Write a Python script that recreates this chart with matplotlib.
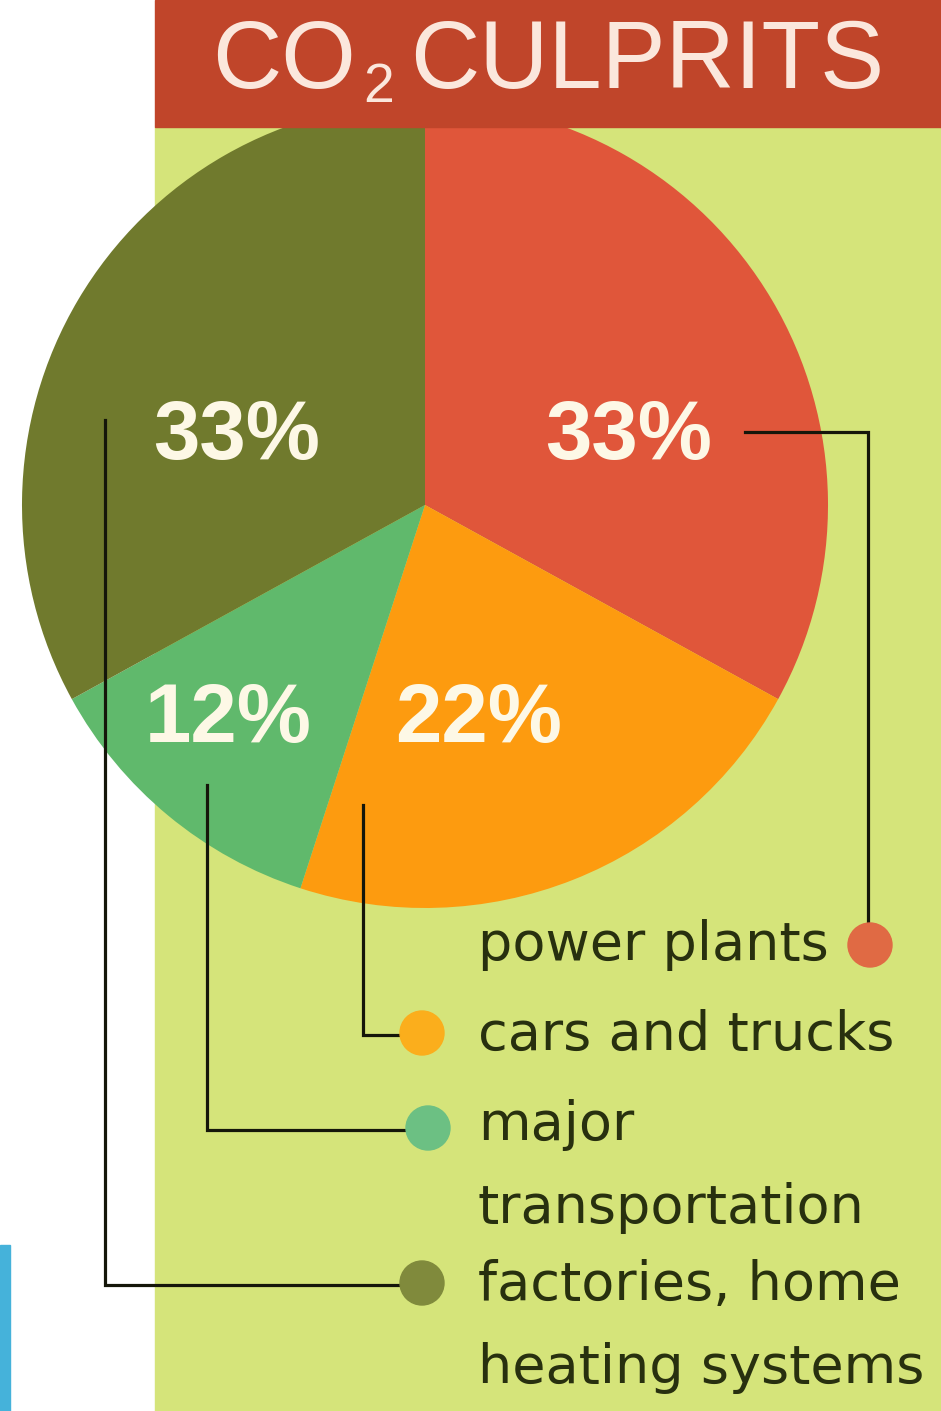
import matplotlib
matplotlib.use('Agg')
import matplotlib.pyplot as plt
from matplotlib import font_manager
from matplotlib.patches import Rectangle, Circle

sources = ["power plants", "cars and trucks", "major\ntransportation", "factories, home\nheating systems"]
shares = [33, 22, 12, 33]
colors = ["#e0563a", "#fd9b0f", "#60b96c", "#707a2d"]
dot_colors = ["#e06a44", "#fbae1c", "#6cc083", "#808a3c"]

W, H = 941, 1411

def pickFont(wanted, fallback):
    '''Use the first installed family of the list'''
    names = {f.name for f in font_manager.fontManager.ttflist}
    for name in wanted:
        if name in names:
            return name
    return fallback

legend_font = pickFont(['DejaVu Sans Condensed'], 'DejaVu Sans')
legend_size = 46 if legend_font == 'DejaVu Sans Condensed' else 39

fig = plt.figure(figsize=(W / 100, H / 100), dpi=100)
ax = fig.add_axes([0, 0, 1, 1])

# backgrounds: white page, green panel, red title banner
fig.patch.set_facecolor('white')
ax.add_patch(Rectangle((155, 127), W - 155, H - 127, color="#d5e47a", zorder=0))
ax.add_patch(Rectangle((155, 0), W - 155, 127, color="#c0452a", zorder=5))
ax.add_patch(Rectangle((0, 1245), 10, H - 1245, color="#45b2da", zorder=0))

# pie (y axis is inverted, so start at -90 and go counterclock in data space)
center = (425, 505)
radius = 403
wedges, _ = ax.pie(shares, colors=colors, startangle=-90, counterclock=True,
                   center=center, radius=radius, frame=True)
for w in wedges:
    w.set_zorder(2)

# percentage labels inside the slices
label_pos = [(629, 437), (479, 720), (228, 720), (237, 437)]
for val, (x, y) in zip(shares, label_pos):
    ax.text(x, y, "{}%".format(val), ha='center', va='center', fontsize=60,
            fontweight='bold', color="#fdf8e6", family='Liberation Sans', zorder=4)

# leader lines from the labels down to the legend dots
leaders = [
    ([745, 868, 868], [432, 432, 935]),
    ([363, 363, 405], [805, 1035, 1035]),
    ([207, 207, 410], [785, 1130, 1130]),
    ([105, 105, 410], [420, 1285, 1285]),
]
for xs, ys in leaders:
    ax.plot(xs, ys, color="#15160a", lw=2.3, zorder=3, solid_joinstyle='miter')

# legend dots and text
dot_pos = [(870, 945), (422, 1033), (428, 1128), (422, 1283)]
text_y = [945, 1035, 1125, 1285]
for name, dc, (dx, dy), ty in zip(sources, dot_colors, dot_pos, text_y):
    ax.add_patch(Circle((dx, dy), 22, color=dc, zorder=4))
    for i, line in enumerate(name.split('\n')):
        ax.text(478, ty + i * 83, line, ha='left', va='center', fontsize=legend_size,
                color="#28300f", family=legend_font, zorder=4)

# title
ax.text(212, 88, "CO", ha='left', va='baseline', fontsize=69,
        color="#fbe7dc", family='Liberation Sans', zorder=6)
ax.text(363, 102, "2", ha='left', va='baseline', fontsize=40,
        color="#fbe7dc", family='Liberation Sans', zorder=6)
ax.text(410, 88, "CULPRITS", ha='left', va='baseline', fontsize=69,
        color="#fbe7dc", family='Liberation Sans', zorder=6)

ax.set_xlim(0, W)
ax.set_ylim(H, 0)
ax.set_aspect('equal')
ax.axis('off')

fig.savefig('out.png', dpi=100, facecolor='white')
